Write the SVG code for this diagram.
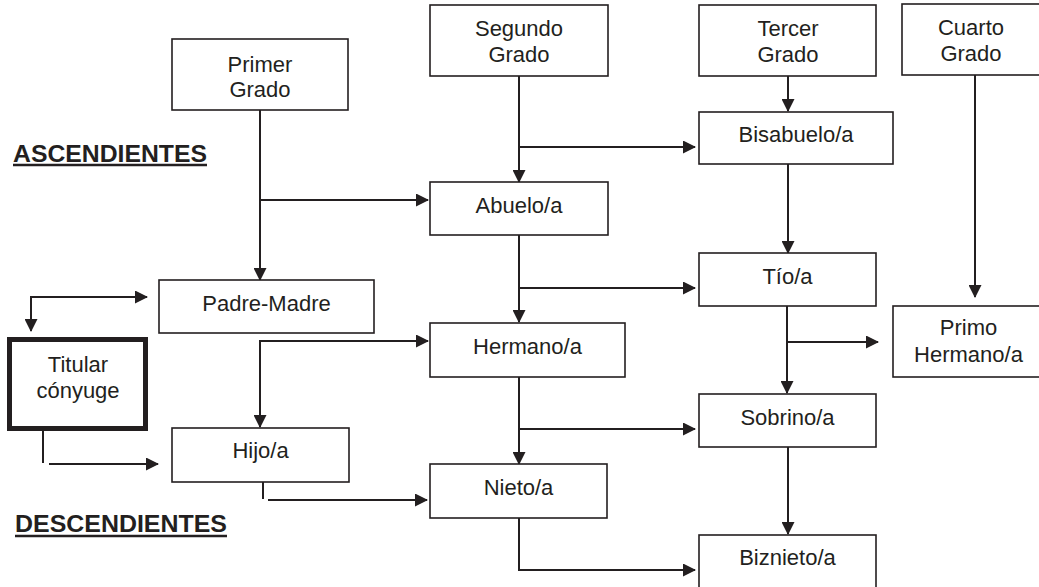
<svg xmlns="http://www.w3.org/2000/svg" width="1039" height="587" viewBox="0 0 1039 587">
<style>
.box{fill:#fff;stroke:#231f20;stroke-width:1.6}
.thick{fill:#fff;stroke:#231f20;stroke-width:5}
.t{font-family:"Liberation Sans",Arial,sans-serif;font-size:22px;fill:#231f20;text-anchor:middle}
.h{font-family:"Liberation Sans",Arial,sans-serif;font-size:23px;font-weight:bold;fill:#231f20}
.c{fill:none;stroke:#231f20;stroke-width:2}
.ca{fill:none;stroke:#231f20;stroke-width:2;marker-end:url(#ah)}
.cb{fill:none;stroke:#231f20;stroke-width:2;marker-end:url(#ah);marker-start:url(#ah)}
.ul{stroke:#231f20;stroke-width:2.5}
</style>
<defs>
<marker id="ah" markerWidth="13" markerHeight="13" refX="12" refY="6.5" orient="auto-start-reverse" markerUnits="userSpaceOnUse">
<path d="M0,0 L13,6.5 L0,13 z" fill="#231f20"/>
</marker>
</defs>
<rect width="1039" height="587" fill="#fff"/>

<g id="headings">
<text class="h" x="13" y="162" textLength="194" lengthAdjust="spacingAndGlyphs">ASCENDIENTES</text>
<line class="ul" x1="13" y1="165" x2="207" y2="165"/>
<text class="h" x="15" y="532" textLength="212" lengthAdjust="spacingAndGlyphs">DESCENDIENTES</text>
<line class="ul" x1="15" y1="536" x2="227" y2="536"/>
</g>

<g id="connectors">
<path class="ca" d="M260,110 L260,280"/>
<path class="ca" d="M260,200 L428,200"/>
<path class="ca" d="M519,76 L519,182"/>
<path class="ca" d="M519,147 L695,147"/>
<path class="ca" d="M788,76 L788,111"/>
<path class="ca" d="M788,164 L788,253"/>
<path class="ca" d="M519,235 L519,322"/>
<path class="ca" d="M519,288 L695,288"/>
<path class="ca" d="M787,306 L787,393"/>
<path class="ca" d="M787,342 L878,342"/>
<path class="ca" d="M975,75 L975,297"/>
<path class="cb" d="M31,331 L31,297 L147,297"/>
<path class="cb" d="M428,341 L260,341 L260,427"/>
<path class="ca" d="M519,377 L519,464"/>
<path class="ca" d="M519,429 L695,429"/>
<path class="ca" d="M788,447 L788,534"/>
<path class="ca" d="M519,518 L519,570 L695,570"/>
<path class="c" d="M43,431 L43,463"/>
<path class="ca" d="M49,464 L158,464"/>
<path class="c" d="M263,482 L263,499"/>
<path class="ca" d="M268,500 L427,500"/>
</g>

<g id="primer"><rect class="box" x="172" y="39" width="176" height="71"/><text class="t" x="260" y="72">Primer</text><text class="t" x="260" y="97">Grado</text></g>
<g id="segundo"><rect class="box" x="430" y="5" width="178" height="71"/><text class="t" x="519" y="36">Segundo</text><text class="t" x="519" y="62">Grado</text></g>
<g id="tercer"><rect class="box" x="699" y="5" width="177" height="71"/><text class="t" x="788" y="36">Tercer</text><text class="t" x="788" y="62">Grado</text></g>
<g id="cuarto"><rect class="box" x="902" y="4" width="142" height="71"/><text class="t" x="971" y="35">Cuarto</text><text class="t" x="971" y="61">Grado</text></g>
<g id="bisabuelo"><rect class="box" x="699" y="112" width="194" height="52"/><text class="t" x="796" y="142">Bisabuelo/a</text></g>
<g id="abuelo"><rect class="box" x="430" y="182" width="178" height="53"/><text class="t" x="519" y="213">Abuelo/a</text></g>
<g id="tio"><rect class="box" x="699" y="253" width="177" height="53"/><text class="t" x="787.5" y="284">Tío/a</text></g>
<g id="padre"><rect class="box" x="159" y="280" width="215" height="53"/><text class="t" x="266.5" y="311">Padre-Madre</text></g>
<g id="hermano"><rect class="box" x="430" y="323" width="195" height="54"/><text class="t" x="527.5" y="354">Hermano/a</text></g>
<g id="primo"><rect class="box" x="893" y="306" width="152" height="71"/><text class="t" x="968.5" y="335">Primo</text><text class="t" x="968.5" y="362">Hermano/a</text></g>
<g id="titular"><rect class="thick" x="9.5" y="339.5" width="136" height="89"/><text class="t" x="78" y="372">Titular</text><text class="t" x="78" y="398">cónyuge</text></g>
<g id="sobrino"><rect class="box" x="699" y="394" width="177" height="53"/><text class="t" x="787.5" y="425">Sobrino/a</text></g>
<g id="hijo"><rect class="box" x="172" y="428" width="177" height="54"/><text class="t" x="260.5" y="458">Hijo/a</text></g>
<g id="nieto"><rect class="box" x="430" y="464" width="177" height="54"/><text class="t" x="518.5" y="495">Nieto/a</text></g>
<g id="biznieto"><rect class="box" x="699" y="535" width="177" height="60"/><text class="t" x="787.5" y="565">Biznieto/a</text></g>
</svg>
